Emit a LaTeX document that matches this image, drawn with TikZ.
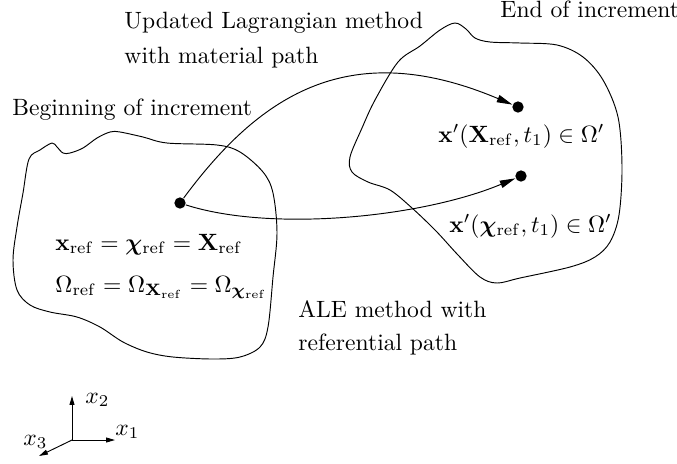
\documentclass[tikz,border=0pt]{standalone}
\usepackage{amsmath}
\usepackage{bm}
\usepackage{tikz}
\usetikzlibrary{arrows.meta,positioning}

\begin{document}
\begin{tikzpicture}[
  x=0.424pt, y=-0.424pt,
  dot/.style={circle, fill=black, inner sep=0pt, minimum size=4.8pt},
  txt/.style={anchor=base west, inner sep=0pt},
  flow/.style={-{Triangle[length=6.6pt,width=3.2pt]}},
  axis/.style={-{Triangle[length=3.8pt,width=2.1pt]}}
]
\useasboundingbox (0,0) rectangle (677,463);

% configuration at the beginning of the increment
\draw plot[smooth cycle, tension=0.55] coordinates {
  (29,159) (40,150) (52,143) (57,147) (63,153) (70,153) (83,148) (97,138)
  (110,132) (120,132) (143,137) (167,143) (217,145) (240,152) (263,172)
  (273,193) (277,233) (273,277) (268,327) (260,347) (240,357) (213,359)
  (173,357) (147,352) (123,342) (100,327) (77,317) (50,312) (30,305)
  (17,290) (13,260) (17,227) (23,193)};

% configuration at the end of the increment
\draw plot[smooth cycle, tension=0.55] coordinates {
  (455,23) (466,29) (475,38) (490,42) (520,43) (557,45) (583,57) (603,80)
  (618,117) (622,167) (619,215) (610,242) (595,257) (570,267) (520,278)
  (497,283) (480,277) (458,255) (436,231) (412,208) (390,190) (368,182)
  (352,172) (350,157) (362,128) (375,100) (398,62) (420,46) (440,30)};

\node[dot] (p0) at (180,203) {};
\node[dot] (p1) at (518,107) {};
\node[dot] (p2) at (521,176) {};

\draw[flow] (p0) .. controls (262,92) and (352,37) .. (p1);
\draw[flow] (p0) .. controls (270,232) and (420,218) .. (p2);

\node[txt] (ul1) at (124,28) {Updated Lagrangian method};
\node[txt] (ul2) at (124,63) {with material path};
\node[txt] (end) at (500,17) {End of increment};
\node[txt] (beg) at (12,115) {Beginning of increment};
\node[txt] (ale1) at (298,317) {ALE method with};
\node[txt] (ale2) at (298,350) {referential path};

\node[txt] (eq1) at (55,250)
  {$\mathbf{x}_{\mathrm{ref}} = \bm{\chi}_{\mathrm{ref}} = \mathbf{X}_{\mathrm{ref}}$};
\node[txt] (eq2) at (55,292)
  {$\Omega_{\mathrm{ref}} = \Omega_{\mathbf{X}_{\mathrm{ref}}} = \Omega_{\bm{\chi}_{\mathrm{ref}}}$};
\node[txt] (xm) at (438,142)
  {$\mathbf{x}'(\mathbf{X}_{\mathrm{ref}}, t_1) \in \Omega'$};
\node[txt] (xa) at (449,232)
  {$\mathbf{x}'(\bm{\chi}_{\mathrm{ref}}, t_1) \in \Omega'$};

% axes
\coordinate (o) at (72,440);
\coordinate (e1) at (115,440);
\coordinate (e2) at (72,396);
\coordinate (e3) at (39,456);
\draw[axis] (o) -- (e1);
\draw[axis] (o) -- (e2);
\draw[axis] (o) -- (e3);
\node[txt] (l1) at (115,435) {$x_1$};
\node[txt] (l2) at (85,403) {$x_2$};
\node[txt] (l3) at (23,445) {$x_3$};
\end{tikzpicture}
\end{document}
